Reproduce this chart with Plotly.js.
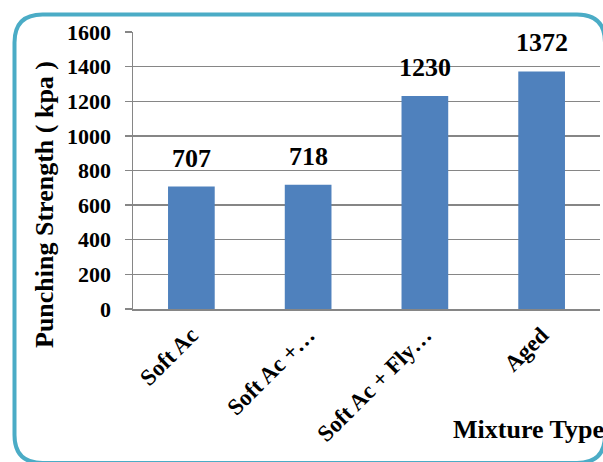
<!DOCTYPE html>
<html>
<head>
<meta charset="utf-8">
<script src="https://cdn.plot.ly/plotly-3.0.1.min.js"></script>
<style>
  html, body { margin: 0; padding: 0; background: #ffffff; }
  #chart { width: 603px; height: 462px; }
</style>
</head>
<body>
<div id="chart"></div>
<script>
// Punching strength by mixture type
const categories = ["Soft Ac", "Soft Ac +…", "Soft Ac + Fly…", "Aged"];
const strength = [707, 718, 1230, 1372];
const yTicks = [0, 200, 400, 600, 800, 1000, 1200, 1400, 1600];

const W = 603, H = 462;
const M = { l: 133, r: 3, t: 32, b: 153 };
const plotW = W - M.l - M.r, plotH = H - M.t - M.b;
// pixel position on the page -> paper coordinates
const px = x => (x - M.l) / plotW;
const py = y => (H - M.b - y) / plotH;

const serif = "'Liberation Serif', 'Times New Roman', serif";
const grey = "#868686";

// rounded frame around the whole chart
function roundedFrame(L, T, R, B, r) {
  const p = [
    `M ${px(L + r)},${py(T)}`,
    `L ${px(R - r)},${py(T)}`,
    `Q ${px(R)},${py(T)} ${px(R)},${py(T + r)}`,
    `L ${px(R)},${py(B - r)}`,
    `Q ${px(R)},${py(B)} ${px(R - r)},${py(B)}`,
    `L ${px(L + r)},${py(B)}`,
    `Q ${px(L)},${py(B)} ${px(L)},${py(B - r)}`,
    `L ${px(L)},${py(T + r)}`,
    `Q ${px(L)},${py(T)} ${px(L + r)},${py(T)}`,
    "Z"
  ];
  return p.join(" ");
}

const trace = {
  type: "bar",
  x: categories,
  y: strength,
  marker: { color: "#4F81BD", line: { width: 0 } },
  width: 0.4,
  hoverinfo: "skip"
};

const valueLabels = categories.map((c, i) => ({
  x: c, y: strength[i], xref: "x", yref: "y",
  text: "<b>" + strength[i] + "</b>",
  showarrow: false, yanchor: "bottom", yshift: 12,
  font: { family: serif, size: 26, color: "#000" }
}));

const layout = {
  width: W, height: H,
  margin: M,
  paper_bgcolor: "#ffffff",
  plot_bgcolor: "#ffffff",
  showlegend: false,
  bargap: 0.6,
  font: { family: serif, color: "#000" },
  xaxis: {
    type: "category",
    showgrid: false,
    showline: true, linecolor: grey, linewidth: 1.5,
    ticks: "",
    tickangle: -45,
    tickfont: { family: serif, size: 23, color: "#000", weight: "bold" },
    ticklabelstandoff: 2
  },
  yaxis: {
    range: [0, 1600],
    tickvals: yTicks,
    ticktext: yTicks.map(String),
    showgrid: true, gridcolor: grey, gridwidth: 1.3,
    zeroline: false,
    showline: true, linecolor: grey, linewidth: 1.5,
    ticks: "outside", ticklen: 7, tickcolor: grey, tickwidth: 1.3,
    tickfont: { family: serif, size: 22, color: "#000", weight: "bold" },
    ticklabelstandoff: 9
  },
  shapes: [{
    type: "path", xref: "paper", yref: "paper",
    path: roundedFrame(14.5, 14.5, 605, 463, 28),
    line: { color: "#4BACC6", width: 4 },
    fillcolor: "rgba(0,0,0,0)",
    layer: "above"
  }],
  annotations: valueLabels.concat([
    {
      xref: "paper", yref: "paper", x: px(44), y: py(205),
      text: "<b>Punching Strength ( kpa )</b>", textangle: -90,
      showarrow: false, xanchor: "center", yanchor: "middle",
      font: { family: serif, size: 26, color: "#000" }
    },
    {
      xref: "paper", yref: "paper", x: px(606), y: py(429),
      text: "<b>Mixture Type</b>",
      showarrow: false, xanchor: "right", yanchor: "middle",
      font: { family: serif, size: 26, color: "#000" }
    }
  ])
};

Plotly.newPlot("chart", [trace], layout, { staticPlot: true, displayModeBar: false });
</script>
</body>
</html>
